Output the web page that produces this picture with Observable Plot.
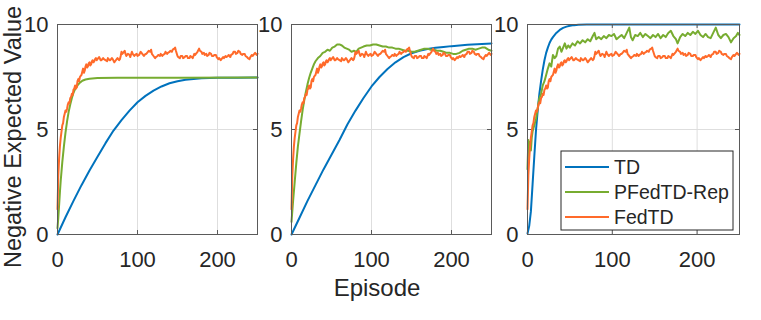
<!DOCTYPE html>
<html><head><meta charset="utf-8">
<script src="https://cdn.jsdelivr.net/npm/d3@7"></script>
<script src="https://cdn.jsdelivr.net/npm/@observablehq/plot@0.6"></script>
<style>
body{margin:0;background:#fff;}
#wrap{position:relative;width:761px;height:320px;overflow:hidden;font-family:"Liberation Sans",Arial,sans-serif;background:#fff;}
#wrap svg{position:absolute;left:0;top:0;}
</style></head><body><div id="wrap"></div>
<script>
// ---- data ----
const episodeTicks = [0, 100, 200];
const valueTicks = [0, 5, 10];
const seriesNames = ["TD", "PFedTD-Rep", "FedTD"];
const seriesColors = ["#0072BD", "#77AC30", "#FF6A2A"];
const xLabel = "Episode";
const yLabel = "Negative Expected Value";

// FedTD (same run in all three panels)
const fedtd = [[0,1.2],[1,2.8],[2,3.6],[3,4.2],[4,4.6],[5,4.9],[6,5.2],[7,5.3],[8,5.6],[9,5.75],[10,5.9],[11,5.85],[12,6.0],[13,6.2],[14,6.3],[15,6.25],[16,6.5],[17,6.55],[18,6.7],[19,6.65],[20,6.9],[21,6.95],[22,7.1],[23,6.95],[24,7.0],[25,7.3],[26,7.4],[27,7.3],[28,7.5],[29,7.55],[30,7.6],[31,7.75],[32,7.9],[33,7.7],[34,7.8],[35,8.0],[36,8.1],[37,7.95],[38,8.0],[39,8.15],[40,8.2],[41,8.05],[42,8.1],[43,8.25],[44,8.3],[45,8.2],[46,8.25],[47,8.35],[48,8.4],[49,8.3],[50,8.35],[52,8.45],[54,8.3],[55,8.3],[57,8.4],[58,8.35],[60,8.3],[62,8.25],[63,8.4],[65,8.3],[66,8.3],[68,8.4],[69,8.35],[71,8.2],[72,8.25],[74,8.35],[75,8.4],[77,8.3],[78,8.35],[79,8.5],[80,8.7],[81,8.6],[82,8.65],[84,8.75],[85,8.6],[86,8.5],[87,8.55],[88,8.6],[90,8.55],[91,8.45],[93,8.7],[94,8.6],[96,8.5],[97,8.55],[99,8.6],[100,8.5],[102,8.55],[104,8.7],[105,8.65],[107,8.55],[108,8.5],[110,8.6],[111,8.6],[113,8.7],[114,8.75],[116,8.7],[117,8.8],[118,8.6],[120,8.5],[122,8.4],[123,8.45],[125,8.5],[126,8.55],[128,8.5],[129,8.6],[131,8.5],[132,8.55],[134,8.6],[135,8.7],[137,8.6],[138,8.65],[140,8.7],[141,8.75],[143,8.7],[144,8.8],[146,8.85],[147,8.9],[148,8.75],[150,8.5],[151,8.45],[153,8.4],[154,8.5],[156,8.5],[157,8.4],[159,8.45],[160,8.5],[162,8.5],[163,8.4],[165,8.4],[166,8.5],[168,8.45],[169,8.4],[171,8.6],[172,8.55],[174,8.65],[175,8.7],[177,8.85],[178,8.75],[180,8.7],[181,8.6],[183,8.65],[184,8.55],[186,8.6],[187,8.5],[189,8.55],[190,8.65],[192,8.6],[193,8.5],[195,8.5],[196,8.55],[198,8.55],[199,8.45],[201,8.35],[202,8.4],[204,8.3],[205,8.35],[207,8.45],[208,8.4],[210,8.5],[211,8.45],[213,8.5],[214,8.55],[216,8.45],[217,8.55],[219,8.6],[220,8.7],[222,8.7],[223,8.6],[225,8.65],[226,8.75],[228,8.7],[229,8.6],[231,8.55],[232,8.6],[234,8.6],[235,8.5],[237,8.45],[238,8.4],[240,8.35],[241,8.45],[243,8.55],[244,8.5],[246,8.6],[247,8.65],[249,8.55],[250,8.6]];

// Panel 1
const td1 = [[0,0],[10,0.82],[20,1.6],[30,2.35],[40,3.05],[50,3.7],[60,4.35],[70,4.95],[80,5.45],[90,5.9],[100,6.3],[110,6.6],[120,6.85],[130,7.05],[140,7.2],[150,7.3],[160,7.37],[170,7.41],[180,7.44],[190,7.45],[200,7.46],[225,7.47],[250,7.48]];
const rep1 = [[0,0.3],[1,0.8],[2,1.4],[3,2.0],[4,2.55],[5,3.0],[6,3.45],[8,4.2],[10,4.85],[12,5.4],[14,5.85],[16,6.2],[18,6.5],[20,6.75],[22,6.92],[25,7.1],[28,7.23],[31,7.32],[35,7.38],[40,7.42],[50,7.45],[75,7.46],[100,7.46],[150,7.47],[250,7.48]];

// Panel 2
const td2 = [[0,0],[10,0.8],[20,1.6],[30,2.35],[40,3.1],[50,3.8],[60,4.5],[70,5.25],[80,5.9],[90,6.5],[100,7.05],[110,7.5],[120,7.88],[130,8.2],[140,8.45],[150,8.63],[160,8.75],[170,8.83],[180,8.89],[190,8.93],[200,8.97],[220,9.03],[250,9.1]];
const rep2 = [[0,0.6],[2,1.6],[4,2.5],[6,3.4],[8,4.2],[10,4.8],[12,5.4],[14,5.95],[16,6.4],[18,6.8],[20,7.15],[22,7.45],[24,7.7],[26,7.9],[28,8.1],[30,8.25],[33,8.4],[36,8.5],[39,8.65],[42,8.7],[45,8.8],[48,8.75],[51,8.9],[54,8.95],[57,9.05],[60,9.05],[63,9.0],[66,8.9],[69,8.85],[72,8.8],[75,8.7],[78,8.75],[81,8.7],[84,8.85],[87,8.9],[90,8.95],[94,9.0],[98,9.0],[102,9.05],[106,9.05],[110,9.0],[114,8.95],[118,8.95],[122,8.9],[126,8.9],[130,8.85],[134,8.85],[138,8.8],[142,8.75],[146,8.75],[150,8.7],[154,8.7],[158,8.75],[162,8.8],[166,8.85],[170,8.85],[174,8.8],[178,8.8],[182,8.75],[186,8.75],[190,8.7],[194,8.65],[198,8.65],[202,8.6],[206,8.6],[210,8.65],[214,8.75],[218,8.8],[222,8.85],[226,8.85],[230,8.8],[234,8.85],[238,8.9],[242,8.9],[246,8.8],[250,8.75]];

// Panel 3
const td3 = [[0,0.05],[2,0.4],[4,1.1],[6,2.4],[8,3.7],[10,4.95],[12,5.9],[14,6.7],[16,7.3],[18,7.85],[20,8.3],[22,8.65],[24,8.9],[26,9.12],[28,9.28],[30,9.4],[34,9.6],[38,9.74],[42,9.84],[46,9.9],[50,9.94],[55,9.97],[60,9.99],[70,10],[250,10]];
const rep3 = [[0,3.1],[1,4.5],[2,4.2],[3,4.4],[4,4.0],[5,4.6],[6,4.9],[8,5.2],[10,5.5],[12,6.0],[14,6.5],[16,6.7],[18,7.1],[20,7.3],[22,7.6],[24,7.9],[26,8.15],[28,8.0],[30,8.55],[32,8.4],[34,8.5],[36,8.85],[38,8.95],[40,8.7],[42,8.9],[44,9.1],[46,8.85],[48,9.0],[50,8.9],[53,9.1],[56,9.0],[59,9.2],[62,9.1],[65,9.25],[68,9.15],[71,9.3],[74,9.2],[77,9.45],[79,9.6],[81,9.3],[84,9.4],[87,9.3],[90,9.45],[93,9.35],[96,9.5],[99,9.45],[102,9.55],[105,9.3],[108,9.4],[111,9.5],[114,9.35],[117,9.6],[120,9.85],[122,9.4],[124,9.25],[127,9.5],[130,9.45],[133,9.6],[136,9.4],[139,9.55],[142,9.45],[145,9.35],[148,9.5],[151,9.4],[154,9.55],[157,9.35],[160,9.5],[163,9.4],[166,9.6],[169,9.7],[172,9.45],[175,9.3],[177,9.1],[180,9.4],[183,9.55],[186,9.45],[189,9.6],[192,9.5],[195,9.65],[198,9.55],[201,9.7],[204,9.5],[207,9.4],[210,9.55],[213,9.4],[216,9.35],[219,9.6],[222,9.85],[225,9.5],[228,9.35],[231,9.5],[234,9.55],[237,9.4],[240,9.15],[243,9.35],[246,9.45],[248,9.6],[250,9.5]];

// ---- layout ----
const W = 761, H = 290;
const axisColor = "#5a5a5a", textColor = "#262626", gridColor = "#dedede";
const layout = [
  {series: [td1, rep1, fedtd], left: 57, right: 257},
  {series: [td2, rep2, fedtd], left: 291, right: 491},
  {series: [td3, rep3, fedtd], left: 527, right: 739}
];
const plotTop = 24, plotBottom = 234;

const wrap = document.getElementById("wrap");

for (const p of layout) {
  const innerW = p.right - p.left, innerH = plotBottom - plotTop;
  const chart = Plot.plot({
    width: W, height: H,
    marginLeft: p.left, marginRight: W - p.right, marginTop: plotTop, marginBottom: H - plotBottom,
    style: {background: "transparent", overflow: "visible", fontFamily: "Liberation Sans, Arial, sans-serif", fontSize: "22px", color: textColor},
    x: {domain: [0, 250], ticks: episodeTicks, label: null},
    y: {domain: [0, 10], ticks: valueTicks, label: null},
    marks: [
      Plot.gridX(episodeTicks.slice(1), {stroke: gridColor, strokeOpacity: 1}),
      Plot.gridY(valueTicks.slice(1, -1), {stroke: gridColor, strokeOpacity: 1}),
      ...p.series.map((s, i) => Plot.line(s, {x: d => d[0], y: d => d[1], stroke: seriesColors[i], strokeWidth: 2})),
      Plot.frame({stroke: axisColor, strokeWidth: 1}),
      Plot.tickY(valueTicks, {y: d => d, insetRight: innerW - 4, stroke: axisColor}),
      Plot.tickY(valueTicks, {y: d => d, insetLeft: innerW - 4, stroke: axisColor}),
      Plot.tickX(episodeTicks, {x: d => d, insetTop: innerH - 4, stroke: axisColor}),
      Plot.tickX(episodeTicks, {x: d => d, insetBottom: innerH - 4, stroke: axisColor}),
      Plot.axisX({ticks: episodeTicks, tickSize: 0, tickPadding: 17, fontSize: 22, label: null}),
      Plot.axisY({ticks: valueTicks, tickSize: 0, tickPadding: 9, fontSize: 22, label: null})
    ]
  });
  wrap.appendChild(chart);
}

// overlay: axis titles and legend
const ov = d3.create("svg").attr("width", W).attr("height", 320)
  .style("font-family", "Liberation Sans, Arial, sans-serif").attr("fill", textColor);
ov.append("text").attr("transform", "translate(21,137) rotate(-90)").attr("text-anchor", "middle")
  .attr("font-size", 23.5).text(yLabel);
ov.append("text").attr("x", 377).attr("y", 296).attr("text-anchor", "middle")
  .attr("font-size", 24).text(xLabel);
const lg = ov.append("g");
lg.append("rect").attr("x", 561).attr("y", 151).attr("width", 172).attr("height", 79)
  .attr("fill", "#fff").attr("stroke", "#262626").attr("stroke-width", 1);
seriesNames.forEach((name, i) => {
  const cy = 167 + i * 25;
  lg.append("line").attr("x1", 565).attr("x2", 609).attr("y1", cy).attr("y2", cy)
    .attr("stroke", seriesColors[i]).attr("stroke-width", 2);
  lg.append("text").attr("x", 614).attr("y", cy + 7).attr("font-size", 19.5).text(name);
});
wrap.appendChild(ov.node());
</script>
</body></html>
